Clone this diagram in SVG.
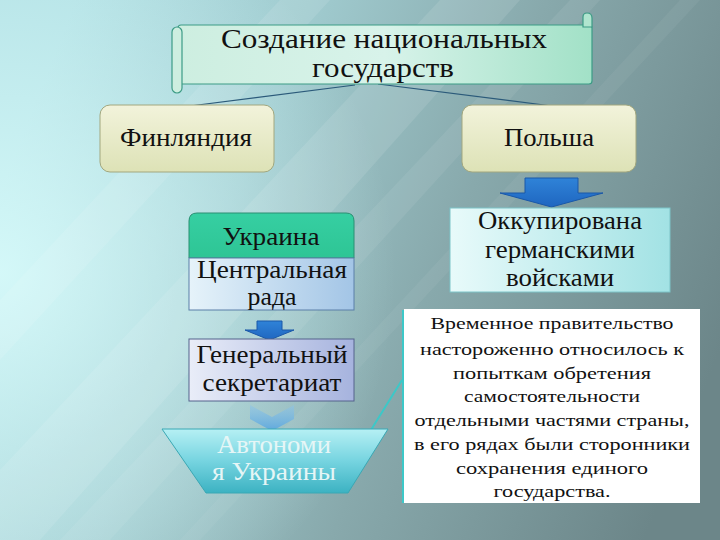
<svg xmlns="http://www.w3.org/2000/svg" width="720" height="540" viewBox="0 0 720 540">
<defs>
<linearGradient id="bg" x1="0" y1="0.35" x2="1" y2="0.65">
<stop offset="0" stop-color="#b0dfe3"/>
<stop offset="0.3" stop-color="#a0cbcf"/>
<stop offset="0.6" stop-color="#88a9ac"/>
<stop offset="1" stop-color="#6c8689"/>
</linearGradient>
<radialGradient id="glow" cx="0" cy="0.5" r="0.55" gradientTransform="scale(1 1.33) translate(0 -0.12)">
<stop offset="0" stop-color="#d8fbfb" stop-opacity="0.9"/>
<stop offset="1" stop-color="#d8fbfb" stop-opacity="0"/>
</radialGradient>
<linearGradient id="scrollG" x1="0" y1="0" x2="1" y2="0">
<stop offset="0" stop-color="#cdeee0"/>
<stop offset="0.5" stop-color="#d8f3ea"/>
<stop offset="1" stop-color="#a2e1c7"/>
</linearGradient>
<linearGradient id="ylw" x1="0" y1="0" x2="0" y2="1">
<stop offset="0" stop-color="#f2f3db"/>
<stop offset="1" stop-color="#dde2b6"/>
</linearGradient>
<linearGradient id="ukrTop" x1="0" y1="0" x2="0" y2="1">
<stop offset="0" stop-color="#36cfa2"/>
<stop offset="1" stop-color="#2ec595"/>
</linearGradient>
<linearGradient id="blueL" x1="0" y1="0" x2="1" y2="0">
<stop offset="0" stop-color="#e6f3fa"/>
<stop offset="1" stop-color="#a3c5e6"/>
</linearGradient>
<linearGradient id="cyanL" x1="0" y1="0" x2="1" y2="0">
<stop offset="0" stop-color="#e8fafa"/>
<stop offset="1" stop-color="#a2e2e4"/>
</linearGradient>
<linearGradient id="lav" x1="0" y1="0" x2="1" y2="0">
<stop offset="0" stop-color="#e9edf8"/>
<stop offset="1" stop-color="#a6b3de"/>
</linearGradient>
<linearGradient id="trap" x1="0" y1="0" x2="0" y2="1">
<stop offset="0" stop-color="#b6f0f4"/>
<stop offset="0.5" stop-color="#76d4e0"/>
<stop offset="1" stop-color="#3cb2c2"/>
</linearGradient>
<linearGradient id="arrowG" x1="0" y1="0" x2="0" y2="1">
<stop offset="0" stop-color="#2f83d8"/>
<stop offset="1" stop-color="#1f66c0"/>
</linearGradient>
<linearGradient id="chev" x1="0" y1="0" x2="0" y2="1">
<stop offset="0" stop-color="#8cc4e8" stop-opacity="0.5"/>
<stop offset="1" stop-color="#5ea8de"/>
</linearGradient>
<style>
text{fill:#111;text-anchor:middle;font-family:Liberation Serif,serif;}
.m{font-size:25px;}
.s{font-size:17.5px;}
.w{fill:#e6f6f6;}
.arr{fill:url(#arrowG);stroke:#1a58a8;stroke-width:1;}
.conn{fill:none;stroke:#2b5a7a;stroke-width:1.2;}
</style>
</defs>

<rect width="720" height="540" fill="url(#bg)"/>
<rect width="720" height="540" fill="url(#glow)"/>
<g fill="#ffffff">
<polygon points="0,470 0,540 40,540 520,0 440,0" opacity="0.10"/>
<polygon points="0,300 0,360 330,0 280,0" opacity="0.10"/>
<polygon points="60,540 110,540 600,0 570,0" opacity="0.07"/>
<polygon points="180,540 200,540 700,0 680,0" opacity="0.05"/>
</g>

<g id="connectors">
<line class="conn" x1="355" y1="85" x2="190" y2="106"/>
<line class="conn" x1="378" y1="84" x2="552" y2="106"/>
<polyline points="366,438 402,380" fill="none" stroke="#3cc8c8" stroke-width="2"/>
<line x1="403" y1="310" x2="403" y2="503" stroke="#3cc8c8" stroke-width="2"/>
</g>

<g id="title">
<rect x="178" y="25" width="414" height="59" rx="3" fill="url(#scrollG)" stroke="#3d9c86" stroke-width="1.2"/>
<rect x="172" y="27" width="10" height="66" rx="5" fill="#cdeee0" stroke="#3d9c86" stroke-width="1.2"/>
<path d="M583,27 L583,17 Q583,13 587,13 Q592,13 592,18 L592,27 Z" fill="#b0e5cf" stroke="#3d9c86" stroke-width="1.2"/>
<text font-family="Liberation Serif" x="384" y="48" font-size="28" textLength="326" lengthAdjust="spacingAndGlyphs">Создание национальных</text>
<text font-family="Liberation Serif" x="383" y="77" font-size="28" textLength="142" lengthAdjust="spacingAndGlyphs">государств</text>
</g>

<g id="finland">
<rect x="100" y="105" width="174" height="67" rx="10" fill="url(#ylw)" stroke="#a2a77e" stroke-width="1"/>
<text font-family="Liberation Serif" class="m" x="186" y="146" textLength="132" lengthAdjust="spacingAndGlyphs">Финляндия</text>
</g>

<g id="poland">
<rect x="462" y="105" width="174" height="67" rx="10" fill="url(#ylw)" stroke="#a2a77e" stroke-width="1"/>
<text font-family="Liberation Serif" class="m" x="549" y="146" textLength="90" lengthAdjust="spacingAndGlyphs">Польша</text>
</g>

<g id="arrow-poland">
<path class="arr" d="M525,178 L578,178 L578,193 L603,193 L551.5,207 L500,193 L525,193 Z"/>
</g>

<g id="occupied">
<rect x="450" y="208" width="220" height="84" fill="url(#cyanL)" stroke="#7cc4c8" stroke-width="1"/>
<text font-family="Liberation Serif" class="m" x="560" y="229" textLength="164" lengthAdjust="spacingAndGlyphs">Оккупирована</text>
<text font-family="Liberation Serif" class="m" x="560" y="258" textLength="150" lengthAdjust="spacingAndGlyphs">германскими</text>
<text font-family="Liberation Serif" class="m" x="560" y="286" textLength="108" lengthAdjust="spacingAndGlyphs">войсками</text>
</g>

<g id="ukraine">
<path d="M189,258 L189,221 Q189,213 197,213 L346,213 Q354,213 354,221 L354,258 Z" fill="url(#ukrTop)" stroke="#2a8f72" stroke-width="1"/>
<rect x="189" y="258" width="165" height="52" fill="url(#blueL)" stroke="#5a7fa8" stroke-width="1"/>
<text font-family="Liberation Serif" class="m" x="271" y="245" textLength="97" lengthAdjust="spacingAndGlyphs">Украина</text>
<text font-family="Liberation Serif" class="m" x="272" y="278" textLength="150" lengthAdjust="spacingAndGlyphs">Центральная</text>
<text font-family="Liberation Serif" class="m" x="272" y="305" textLength="49" lengthAdjust="spacingAndGlyphs">рада</text>
</g>

<g id="arrow-ukraine">
<path class="arr" d="M257,321 L282,321 L282,330 L294,330 L269.5,340 L245,330 L257,330 Z"/>
</g>

<g id="gensec">
<rect x="189" y="339" width="165" height="62" fill="url(#lav)" stroke="#55628c" stroke-width="1"/>
<text font-family="Liberation Serif" class="m" x="272" y="363" textLength="151" lengthAdjust="spacingAndGlyphs">Генеральный</text>
<text font-family="Liberation Serif" class="m" x="272" y="391" textLength="139" lengthAdjust="spacingAndGlyphs">секретариат</text>
</g>

<g id="chevron">
<path d="M250,405 L272,417 L294,405 L294,419 L272,431 L250,419 Z" fill="url(#chev)"/>
</g>

<g id="autonomy">
<polygon points="162,429 388,429 348,493 206,493" fill="url(#trap)" stroke="#3aa8b4" stroke-width="1"/>
<text font-family="Liberation Serif" class="m w" x="274" y="453" textLength="114" lengthAdjust="spacingAndGlyphs">Автономи</text>
<text font-family="Liberation Serif" class="m w" x="274" y="480" textLength="124" lengthAdjust="spacingAndGlyphs">я Украины</text>
</g>

<g id="note">
<rect x="404" y="309" width="296" height="194" fill="#ffffff"/>
<text font-family="Liberation Serif" class="s" x="552" y="329" textLength="243" lengthAdjust="spacingAndGlyphs">Временное правительство</text>
<text font-family="Liberation Serif" class="s" x="552" y="355" textLength="264" lengthAdjust="spacingAndGlyphs">настороженно относилось к</text>
<text font-family="Liberation Serif" class="s" x="552" y="379" textLength="198" lengthAdjust="spacingAndGlyphs">попыткам обретения</text>
<text font-family="Liberation Serif" class="s" x="552" y="402" textLength="176" lengthAdjust="spacingAndGlyphs">самостоятельности</text>
<text font-family="Liberation Serif" class="s" x="552" y="426" textLength="275" lengthAdjust="spacingAndGlyphs">отдельными частями страны,</text>
<text font-family="Liberation Serif" class="s" x="552" y="450" textLength="276" lengthAdjust="spacingAndGlyphs">в его рядах были сторонники</text>
<text font-family="Liberation Serif" class="s" x="552" y="474" textLength="192" lengthAdjust="spacingAndGlyphs">сохранения единого</text>
<text font-family="Liberation Serif" class="s" x="552" y="497" textLength="117" lengthAdjust="spacingAndGlyphs">государства.</text>
</g>
</svg>
